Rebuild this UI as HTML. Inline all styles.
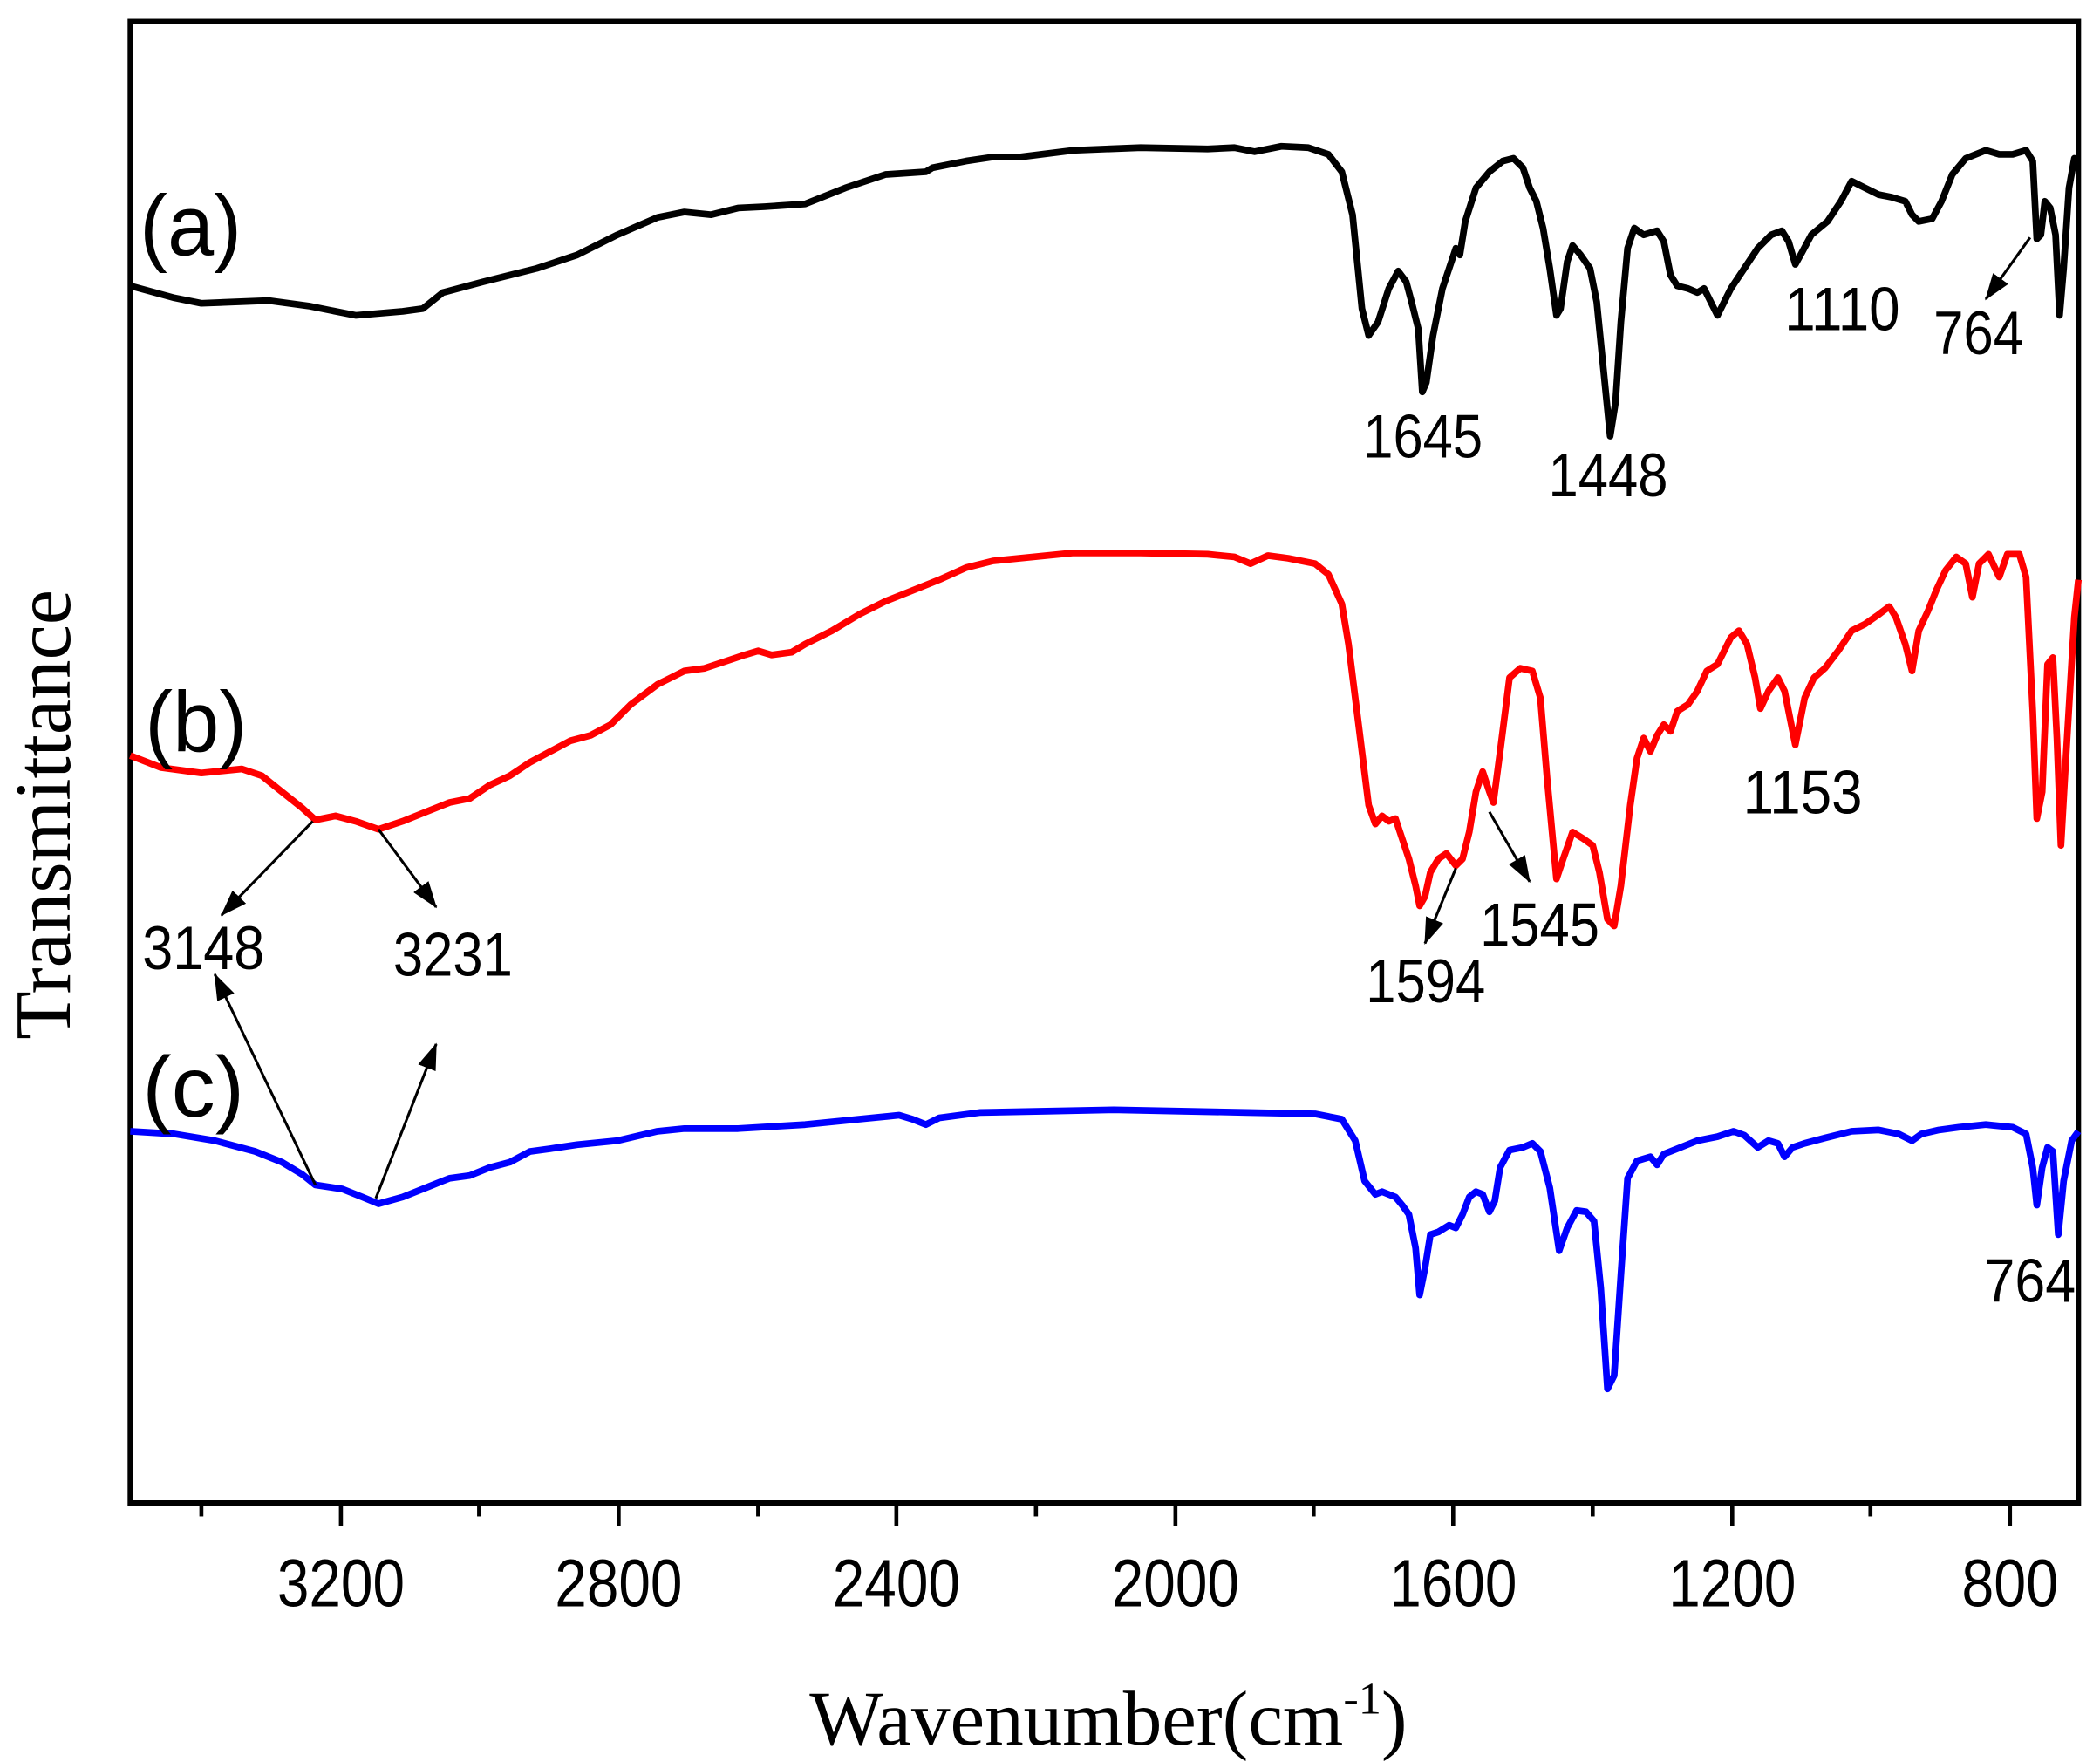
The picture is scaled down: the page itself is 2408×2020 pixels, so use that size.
<!DOCTYPE html>
<html><head><meta charset="utf-8"><style>html,body{margin:0;padding:0;background:#fff}svg{display:block}</style></head><body>
<svg width="2408" height="2020" viewBox="0 0 1565 1313" xmlns="http://www.w3.org/2000/svg">
<defs>
<marker id="ah2" viewBox="0 0 20 14" markerWidth="20" markerHeight="14" refX="19" refY="7" orient="auto" markerUnits="userSpaceOnUse"><path d="M0,0 L20,7 L0,14 z" fill="#000"/></marker></defs>
<rect x="97" y="16" width="1452" height="1104" fill="none" stroke="#000" stroke-width="4"/>
<g stroke="#000" stroke-width="3">
<line x1="150" y1="1120" x2="150" y2="1130"/><line x1="254" y1="1120" x2="254" y2="1137"/>
<line x1="357" y1="1120" x2="357" y2="1130"/><line x1="461" y1="1120" x2="461" y2="1137"/>
<line x1="565" y1="1120" x2="565" y2="1130"/><line x1="668" y1="1120" x2="668" y2="1137"/>
<line x1="772" y1="1120" x2="772" y2="1130"/><line x1="876" y1="1120" x2="876" y2="1137"/>
<line x1="979" y1="1120" x2="979" y2="1130"/><line x1="1083" y1="1120" x2="1083" y2="1137"/>
<line x1="1187" y1="1120" x2="1187" y2="1130"/><line x1="1291" y1="1120" x2="1291" y2="1137"/>
<line x1="1394" y1="1120" x2="1394" y2="1130"/><line x1="1498" y1="1120" x2="1498" y2="1137"/>
</g>
<g font-family="Liberation Sans, sans-serif" font-size="50" text-anchor="middle" lengthAdjust="spacingAndGlyphs">
<text x="254" y="1197" textLength="95" lengthAdjust="spacingAndGlyphs">3200</text><text x="461" y="1197" textLength="95" lengthAdjust="spacingAndGlyphs">2800</text><text x="668" y="1197" textLength="95" lengthAdjust="spacingAndGlyphs">2400</text><text x="876" y="1197" textLength="95" lengthAdjust="spacingAndGlyphs">2000</text><text x="1083" y="1197" textLength="95" lengthAdjust="spacingAndGlyphs">1600</text><text x="1291" y="1197" textLength="95" lengthAdjust="spacingAndGlyphs">1200</text><text x="1498" y="1197" textLength="72" lengthAdjust="spacingAndGlyphs">800</text>
</g>
<text x="826" y="1300" font-family="Liberation Serif, serif" font-size="58" text-anchor="middle">Wavenumber(cm<tspan font-size="34" dy="-23">-1</tspan><tspan dy="23">)</tspan></text>
<text transform="translate(52,607) rotate(-90)" font-family="Liberation Serif, serif" font-size="59" text-anchor="middle">Transmittance</text>
<g fill="none" stroke-width="5" stroke-linejoin="round">
<polyline stroke="#000" points="97,213 130,222 150,226 200,224 230,228 265,235 300,232 315,230 330,218 360,210 380,205 400,200 430,190 460,175 490,162 510,158 530,160 550,155 570,154 600,152 630,140 660,130 690,128 695,125 720,120 740,117 760,117 800,112 850,110 900,111 920,110 935,113 955,109 975,110 990,115 1000,128 1008,160 1015,230 1020,250 1027,240 1035,215 1042,202 1048,210 1052,225 1057,245 1060,292 1063,285 1068,250 1075,215 1080,200 1085,185 1088,190 1092,165 1100,140 1110,128 1120,120 1128,118 1135,125 1140,140 1145,150 1150,170 1155,200 1160,235 1163,230 1168,195 1172,183 1178,190 1185,200 1190,225 1195,275 1200,325 1204,300 1208,240 1213,185 1218,170 1225,175 1235,172 1240,180 1245,205 1250,213 1258,215 1265,218 1270,215 1275,225 1280,235 1285,225 1290,215 1300,200 1310,185 1320,175 1328,172 1333,180 1338,197 1343,188 1350,175 1362,165 1372,150 1380,135 1390,140 1400,145 1410,147 1420,150 1425,160 1430,165 1440,163 1447,150 1455,130 1465,118 1480,112 1490,115 1500,115 1510,112 1515,120 1518,178 1521,175 1524,150 1528,155 1532,175 1535,235 1538,200 1542,140 1546,118 1549,120"/>
<polyline stroke="#f00" points="97,563 120,572 150,576 180,573 195,578 210,590 225,602 235,611 250,608 265,612 282,618 300,612 320,604 335,598 350,595 365,585 380,578 395,568 410,560 425,552 440,548 455,540 470,525 490,510 510,500 525,498 540,493 555,488 565,485 575,488 590,486 600,480 620,470 640,458 660,448 680,440 700,432 720,423 740,418 770,415 800,412 850,412 900,413 920,415 932,420 945,414 960,416 980,420 990,428 1000,450 1005,480 1010,520 1015,560 1020,600 1025,614 1030,608 1035,612 1040,610 1045,625 1050,640 1055,660 1058,675 1062,668 1066,650 1072,640 1078,636 1085,645 1090,640 1095,620 1100,590 1105,575 1110,590 1113,598 1118,560 1125,505 1133,498 1142,500 1148,520 1153,580 1160,655 1165,640 1172,620 1180,625 1187,630 1192,650 1198,685 1203,690 1208,660 1215,600 1220,565 1225,550 1230,560 1235,548 1240,540 1245,545 1250,530 1258,525 1265,515 1272,500 1280,495 1290,475 1296,470 1302,480 1308,505 1312,528 1318,515 1325,505 1330,515 1338,555 1345,520 1352,505 1360,498 1370,485 1380,470 1390,465 1400,458 1408,452 1413,460 1420,480 1425,500 1430,470 1437,455 1443,440 1450,425 1458,415 1465,420 1470,445 1475,420 1482,413 1490,430 1496,413 1505,413 1510,430 1515,530 1518,610 1522,590 1526,495 1530,490 1533,550 1536,630 1540,560 1546,460 1549,432"/>
<polyline stroke="#00f" points="97,843 130,845 160,850 190,858 210,866 225,875 235,883 255,886 270,892 282,897 300,892 320,884 335,878 350,876 365,870 380,866 395,858 410,856 430,853 460,850 490,843 510,841 550,841 600,838 640,834 670,831 680,834 690,838 700,833 730,829 780,828 830,827 880,828 930,829 980,830 1000,834 1010,850 1017,880 1025,890 1030,888 1040,892 1045,898 1050,905 1055,930 1058,965 1062,945 1066,920 1072,918 1080,913 1085,915 1090,905 1095,892 1100,888 1105,890 1110,903 1114,895 1118,870 1125,857 1135,855 1142,852 1148,858 1155,885 1162,932 1168,915 1175,902 1182,903 1188,910 1193,960 1198,1035 1203,1025 1208,950 1213,878 1220,865 1230,862 1235,868 1240,860 1250,856 1265,850 1280,847 1292,843 1300,846 1310,855 1318,850 1325,852 1330,862 1336,855 1345,852 1360,848 1380,843 1400,842 1415,845 1425,850 1432,845 1445,842 1460,840 1480,838 1500,840 1510,845 1515,870 1518,898 1522,870 1526,855 1530,858 1534,920 1538,880 1544,850 1549,843"/>
</g>
<g font-family="Liberation Sans, sans-serif" font-size="64">
<text x="104" y="190" textLength="76" lengthAdjust="spacingAndGlyphs">(a)</text><text x="108" y="560" textLength="76" lengthAdjust="spacingAndGlyphs">(b)</text><text x="106" y="832" textLength="76" lengthAdjust="spacingAndGlyphs">(c)</text>
</g>
<g font-family="Liberation Sans, sans-serif" font-size="46">
<text x="1016" y="341" textLength="89" lengthAdjust="spacingAndGlyphs">1645</text><text x="1154" y="370" textLength="89" lengthAdjust="spacingAndGlyphs">1448</text><text x="1330" y="246" textLength="86" lengthAdjust="spacingAndGlyphs">1110</text><text x="1441" y="264" textLength="67" lengthAdjust="spacingAndGlyphs">764</text>
<text x="1018" y="747" textLength="89" lengthAdjust="spacingAndGlyphs">1594</text><text x="1103" y="705" textLength="89" lengthAdjust="spacingAndGlyphs">1545</text><text x="1299" y="606" textLength="89" lengthAdjust="spacingAndGlyphs">1153</text>
<text x="106" y="722" textLength="91" lengthAdjust="spacingAndGlyphs">3148</text><text x="293" y="727" textLength="89" lengthAdjust="spacingAndGlyphs">3231</text><text x="1479" y="970" textLength="68" lengthAdjust="spacingAndGlyphs">764</text>
</g>
<g stroke="#000" stroke-width="2" marker-end="url(#ah2)">
<line x1="233" y1="612" x2="165" y2="682"/><line x1="282" y1="618" x2="325" y2="676"/>
<line x1="235" y1="883" x2="160" y2="726"/><line x1="280" y1="893" x2="325" y2="778"/>
<line x1="1085" y1="647" x2="1062" y2="703"/><line x1="1110" y1="605" x2="1140" y2="657"/>
<line x1="1513" y1="177" x2="1480" y2="223"/>
</g>
</svg>
</body></html>
